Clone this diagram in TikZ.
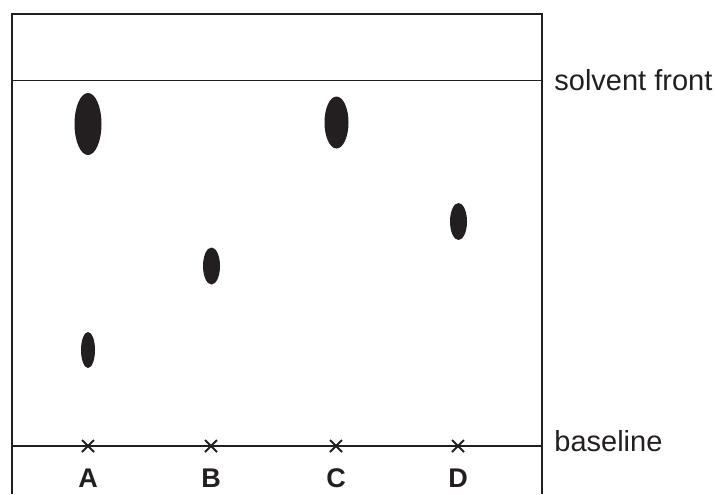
\documentclass[tikz,border=0pt]{standalone}
\usepackage{fontspec}
\setmainfont{Liberation Sans}
\usepackage{tikz}

\definecolor{inkblack}{HTML}{231F20}

\tikzset{
    spot/.style={fill=inkblack, draw=none},
    mark cross/.style={draw=inkblack, line width=1pt},
    lane label/.style={font=\fontsize{13.5}{16}\selectfont\bfseries, text=inkblack, inner sep=0pt},
    side label/.style={font=\fontsize{14.5}{17}\selectfont, text=inkblack, anchor=west, inner sep=0pt}
}

\begin{document}
\begin{tikzpicture}[x=0.5pt, y=-0.5pt]
    \useasboundingbox (0,0) rectangle (715,494);

    % El paper (obert per sota)
    \draw[inkblack, line width=1.3pt] (12,494) -- (12,14) -- (542,14) -- (542,494);

    % Front del dissolvent i linia de base
    \draw[inkblack, line width=0.7pt] (12,80.5) -- (542,80.5);
    \draw[inkblack, line width=0.7pt] (12,446) -- (542,446);
    \node[side label] (front) at (554,80) {solvent front};
    \node[side label] (base) at (554,441.5) {baseline};

    % Creus d'origen i lletres de cada mostra
    \foreach \x/\t in {88/A, 211/B, 336/C, 458/D} {
        \draw[mark cross] (\x-6,440) -- (\x+6,452);
        \draw[mark cross] (\x-6,452) -- (\x+6,440);
        \node[lane label] (lab\t) at (\x,478) {\t};
    }

    % Taques
    \fill[spot] (88,124) ellipse [x radius=13.5, y radius=31];
    \fill[spot] (88,350) ellipse [x radius=7, y radius=18];
    \fill[spot] (211.5,266) ellipse [x radius=8.5, y radius=18.5];
    \fill[spot] (336.5,122.5) ellipse [x radius=12, y radius=26];
    \fill[spot] (458.5,221.5) ellipse [x radius=8.5, y radius=18.5];

\end{tikzpicture}
\end{document}
